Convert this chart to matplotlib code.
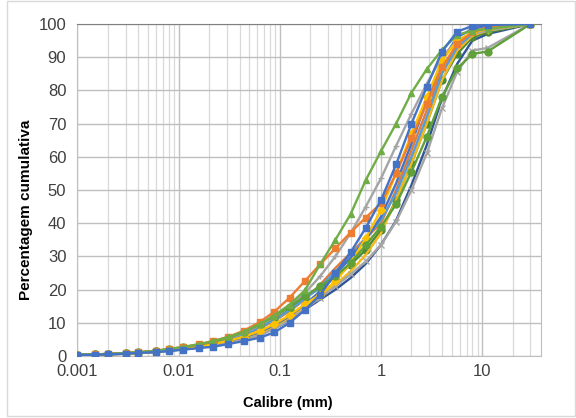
import matplotlib
matplotlib.use('Agg')
import matplotlib.pyplot as plt
from matplotlib.ticker import FixedLocator, LogLocator, NullFormatter

# sieve sizes (mm)
sizes = [0.001, 0.0015, 0.002, 0.003, 0.004, 0.006, 0.008, 0.011, 0.016, 0.022,
         0.031, 0.044, 0.063, 0.088, 0.125, 0.177, 0.25, 0.354, 0.5, 0.707,
         1, 1.41, 2, 2.83, 4, 5.66, 8, 11.3, 30]

s_dblue = [0.3, 0.4, 0.5, 0.7, 0.9, 1.2, 1.6, 2.0, 2.6, 3.2, 4.0, 5.0, 6.4, 8.3, 10.7, 14, 17, 20,
           23.5, 27.8, 33.5, 40.8, 51.5, 63.5, 77.5, 88, 95, 97, 100]
s_dorange = [0.4, 0.5, 0.6, 0.8, 1.0, 1.5, 1.9, 2.4, 3.1, 3.9, 5.0, 6.4, 8.3, 10.6, 13.5, 17, 21.5, 26.5,
             31, 35.5, 40, 50, 62, 74, 86, 93, 97, 98.5, 100]
s_green2 = [0.4, 0.5, 0.6, 0.8, 1.0, 1.5, 1.9, 2.4, 3.1, 3.9, 5.0, 6.5, 8.6, 11, 14, 17.5, 20.5, 23.5,
            27.5, 32, 38, 47, 58, 70, 83, 91, 96, 97.5, 100]
s_dyellow = [0.3, 0.4, 0.5, 0.7, 0.9, 1.3, 1.7, 2.1, 2.7, 3.3, 4.2, 5.3, 6.8, 8.8, 11.3, 14.6, 18, 21.5,
             25.5, 30.5, 37, 47, 58, 70, 83, 92, 96.5, 98, 100]
s_lblue = [0.4, 0.5, 0.6, 0.9, 1.1, 1.5, 2.0, 2.5, 3.2, 4.0, 5.1, 6.6, 8.5, 10.8, 13.8, 17.2, 20.8, 25.5,
           30, 35.5, 41, 49, 60, 72, 85, 93, 97, 98.5, 100]
s_blue2 = [0.3, 0.4, 0.5, 0.7, 0.9, 1.3, 1.7, 2.2, 2.8, 3.5, 4.4, 5.6, 7.2, 9.3, 12, 15.5, 19.5, 24.5,
           29.5, 35, 42, 52, 64, 77, 89, 96, 98.5, 99.5, 100]
s_gray_x = [0.3, 0.4, 0.5, 0.7, 0.9, 1.3, 1.6, 2.0, 2.6, 3.1, 3.9, 4.9, 6.2, 8.2, 10.8, 14.2, 17.5, 21,
            24.6, 28.5, 33.5, 40.5, 50, 61, 74.6, 85.6, 92, 92.8, 100]
s_gray_plus = [0.4, 0.5, 0.6, 0.8, 1.0, 1.5, 1.9, 2.5, 3.3, 4.2, 5.4, 7, 9.2, 11.8, 15, 19, 24, 30,
               37, 45, 53.5, 63.3, 73, 82, 90, 95, 97, 98, 100]
s_yellow = [0.3, 0.4, 0.6, 0.8, 1.0, 1.4, 1.8, 2.3, 2.9, 3.6, 4.6, 5.8, 7.5, 9.6, 12.3, 15.6, 18.5, 22.5,
            28, 35.5, 44, 55, 67, 78, 89, 95, 97.5, 98.5, 100]
s_green_circ = [0.4, 0.5, 0.6, 0.9, 1.1, 1.6, 2.0, 2.6, 3.4, 4.3, 5.5, 7.2, 9.5, 12, 14.8, 18, 21, 24,
                28, 33.4, 39, 45.7, 55.5, 66, 78, 86.6, 91, 91.7, 100]
s_orange = [0.4, 0.5, 0.6, 0.9, 1.1, 1.6, 2.1, 2.7, 3.5, 4.5, 5.8, 7.6, 10.2, 13.3, 17.6, 22.6, 27.6, 32.4,
            37.2, 41.7, 46, 55, 65.6, 76, 87, 94, 97.5, 99, 100]
s_green_tri = [0.4, 0.5, 0.6, 0.9, 1.1, 1.6, 2.1, 2.7, 3.6, 4.5, 5.7, 7.3, 9.6, 12.2, 15.5, 19.8, 27.6, 35,
               42.7, 53, 61.7, 70, 79.3, 86.4, 92.2, 96.7, 98, 98.5, 100]
s_blue = [0.3, 0.4, 0.5, 0.7, 0.9, 1.2, 1.5, 1.9, 2.4, 2.8, 3.6, 4.5, 5.5, 7.1, 10, 13.9, 18.4, 24.9,
          31.2, 38.6, 47, 57.7, 70, 81, 91.7, 97.7, 99.4, 99.7, 100]

series = [
    (s_dblue, '#2F5597', None),
    (s_dorange, '#E07B39', None),
    (s_green2, '#4E8A34', 'o'),
    (s_dyellow, '#F2B91C', None),
    (s_lblue, '#5B9BD5', None),
    (s_blue2, '#4472C4', None),
    (s_gray_x, '#A5A5A5', 'x'),
    (s_gray_plus, '#A5A5A5', '+'),
    (s_yellow, '#FFC000', 'D'),
    (s_green_circ, '#5FA03A', 'o'),
    (s_orange, '#ED7D31', 's'),
    (s_green_tri, '#70AD47', '^'),
    (s_blue, '#4472C4', 's'),
]

plt.rcParams['font.family'] = ['Liberation Sans', 'DejaVu Sans']

fig = plt.figure(figsize=(5.76, 4.18), dpi=100)
ax = fig.add_axes([0.1345, 0.1483, 0.8045, 0.7943])

for vals, col, mk in series:
    if mk in ('x', '+'):
        ax.plot(sizes, vals, color=col, lw=1.7, marker=mk, ms=5, mew=1.0, zorder=3)
    elif mk is None:
        ax.plot(sizes, vals, color=col, lw=1.7, zorder=3)
    else:
        ms = 4 if mk == 'D' else 5
        ax.plot(sizes, vals, color=col, lw=1.7, marker=mk, ms=ms, mec=col, mfc=col, zorder=3)

ax.set_xscale('log')
ax.set_xlim(0.001, 38)
ax.set_ylim(0, 100)
ax.yaxis.set_major_locator(FixedLocator(range(0, 101, 10)))
ax.xaxis.set_major_locator(FixedLocator([0.001, 0.01, 0.1, 1, 10]))
ax.xaxis.set_minor_locator(LogLocator(base=10, subs=range(2, 10), numticks=20))
ax.xaxis.set_minor_formatter(NullFormatter())
ax.set_xticklabels(['0.001', '0.01', '0.1', '1', '10'])

ax.grid(True, which='major', color='#BFBFBF', lw=1.0, zorder=0)
ax.grid(True, which='minor', axis='x', color='#D9D9D9', lw=0.9, zorder=0)
ax.set_axisbelow(True)
ax.tick_params(which='both', length=0, labelsize=12, colors='#404040', pad=6)
ax.tick_params(axis='y', pad=8)
for sp in ax.spines.values():
    sp.set_color('#BFBFBF')
ax.spines['top'].set_color('#808080')

ax.set_xlabel('Calibre (mm)', fontsize=10.5, fontweight='bold')
ax.xaxis.set_label_coords(0.453, -0.12)
ax.set_ylabel('Percentagem cumulativa', fontsize=11, fontweight='bold')
ax.yaxis.set_label_coords(-0.097, 0.441)

fig.patches.append(plt.Rectangle((0.012, 0.004), 0.986, 0.994, transform=fig.transFigure,
                                 fill=False, edgecolor='#D9D9D9', lw=1))

fig.savefig('out.png', dpi=100)
